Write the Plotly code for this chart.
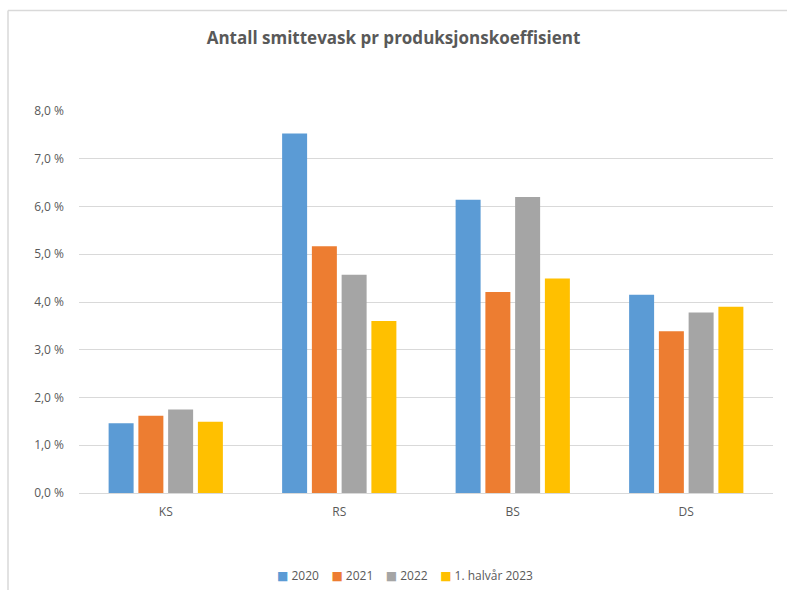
import plotly.graph_objects as go

# Category labels and series values (percent)
categories = ["KS", "RS", "BS", "DS"]
series_names = ["2020", "2021", "2022", "1. halvår 2023"]
values_2020 = [1.46, 7.53, 6.14, 4.15]
values_2021 = [1.62, 5.17, 4.21, 3.39]
values_2022 = [1.75, 4.57, 6.20, 3.78]
values_h1_2023 = [1.49, 3.60, 4.49, 3.90]
colors = ["#5B9BD5", "#ED7D31", "#A5A5A5", "#FFC000"]

tick_vals = [0, 1, 2, 3, 4, 5, 6, 7, 8]
tick_text = ["0,0 %", "1,0 %", "2,0 %", "3,0 %", "4,0 %", "5,0 %", "6,0 %", "7,0 %", "8,0 %"]

W, H = 787, 590
ML, MR, MT, MB = 79, 14, 111, 97
plot_w = W - ML - MR
plot_h = H - MT - MB

font_family = "Open Sans, Liberation Sans, sans-serif"
text_gray = "#595959"

fig = go.Figure()
for name, vals, col in zip(series_names,
                           [values_2020, values_2021, values_2022, values_h1_2023],
                           colors):
    fig.add_trace(go.Bar(x=categories, y=vals, name=name, marker_color=col,
                         marker_line_width=0, showlegend=False))


def px_x(px):
    return (px - ML) / plot_w


def px_y(py):
    return (H - MB - py) / plot_h


# Compact legend row: coloured square followed by the series name
gap = "\u00a0" * 4
legend_text = gap.join(
    f'<span style="color:{c};font-family:DejaVu Sans">■</span>\u00a0{n}'
    for n, c in zip(series_names, colors)
)

fig.update_layout(
    width=W, height=H,
    margin=dict(l=ML, r=MR, t=MT, b=MB),
    paper_bgcolor="white", plot_bgcolor="white",
    barmode="group", bargap=0.314, bargroupgap=0.16,
    title=dict(text="<b>Antall smittevask pr produksjonskoeffisient</b>",
               x=0.5, xanchor="center", y=1 - 38 / H, yanchor="middle",
               font=dict(family=font_family, size=17, color=text_gray)),
    font=dict(family=font_family, size=12, color=text_gray),
    showlegend=False,
    xaxis=dict(showgrid=False, showline=True, linecolor="#D9D9D9", linewidth=1,
               ticks="", ticklabelstandoff=8,
               tickfont=dict(size=12, color=text_gray)),
    yaxis=dict(range=[0, 8], tickvals=tick_vals, ticktext=tick_text,
               showgrid=True, gridcolor="#D9D9D9", gridwidth=1,
               zeroline=False, showline=False, ticks="",
               ticklabelstandoff=14,
               tickfont=dict(size=12, color=text_gray)),
    annotations=[
        dict(text=legend_text, xref="paper", yref="paper",
             x=px_x(405), y=px_y(575), xanchor="center", yanchor="middle",
             showarrow=False, font=dict(family=font_family, size=12, color=text_gray)),
    ],
    shapes=[
        dict(type="line", xref="paper", yref="paper",
             x0=px_x(8), x1=px_x(8), y0=px_y(10.5), y1=px_y(H + 5),
             line=dict(color="#D9D9D9", width=1.5)),
        dict(type="line", xref="paper", yref="paper",
             x0=px_x(8), x1=px_x(W + 5), y0=px_y(10.5), y1=px_y(10.5),
             line=dict(color="#D9D9D9", width=1.5)),
    ],
)

fig.write_html("out.html")
